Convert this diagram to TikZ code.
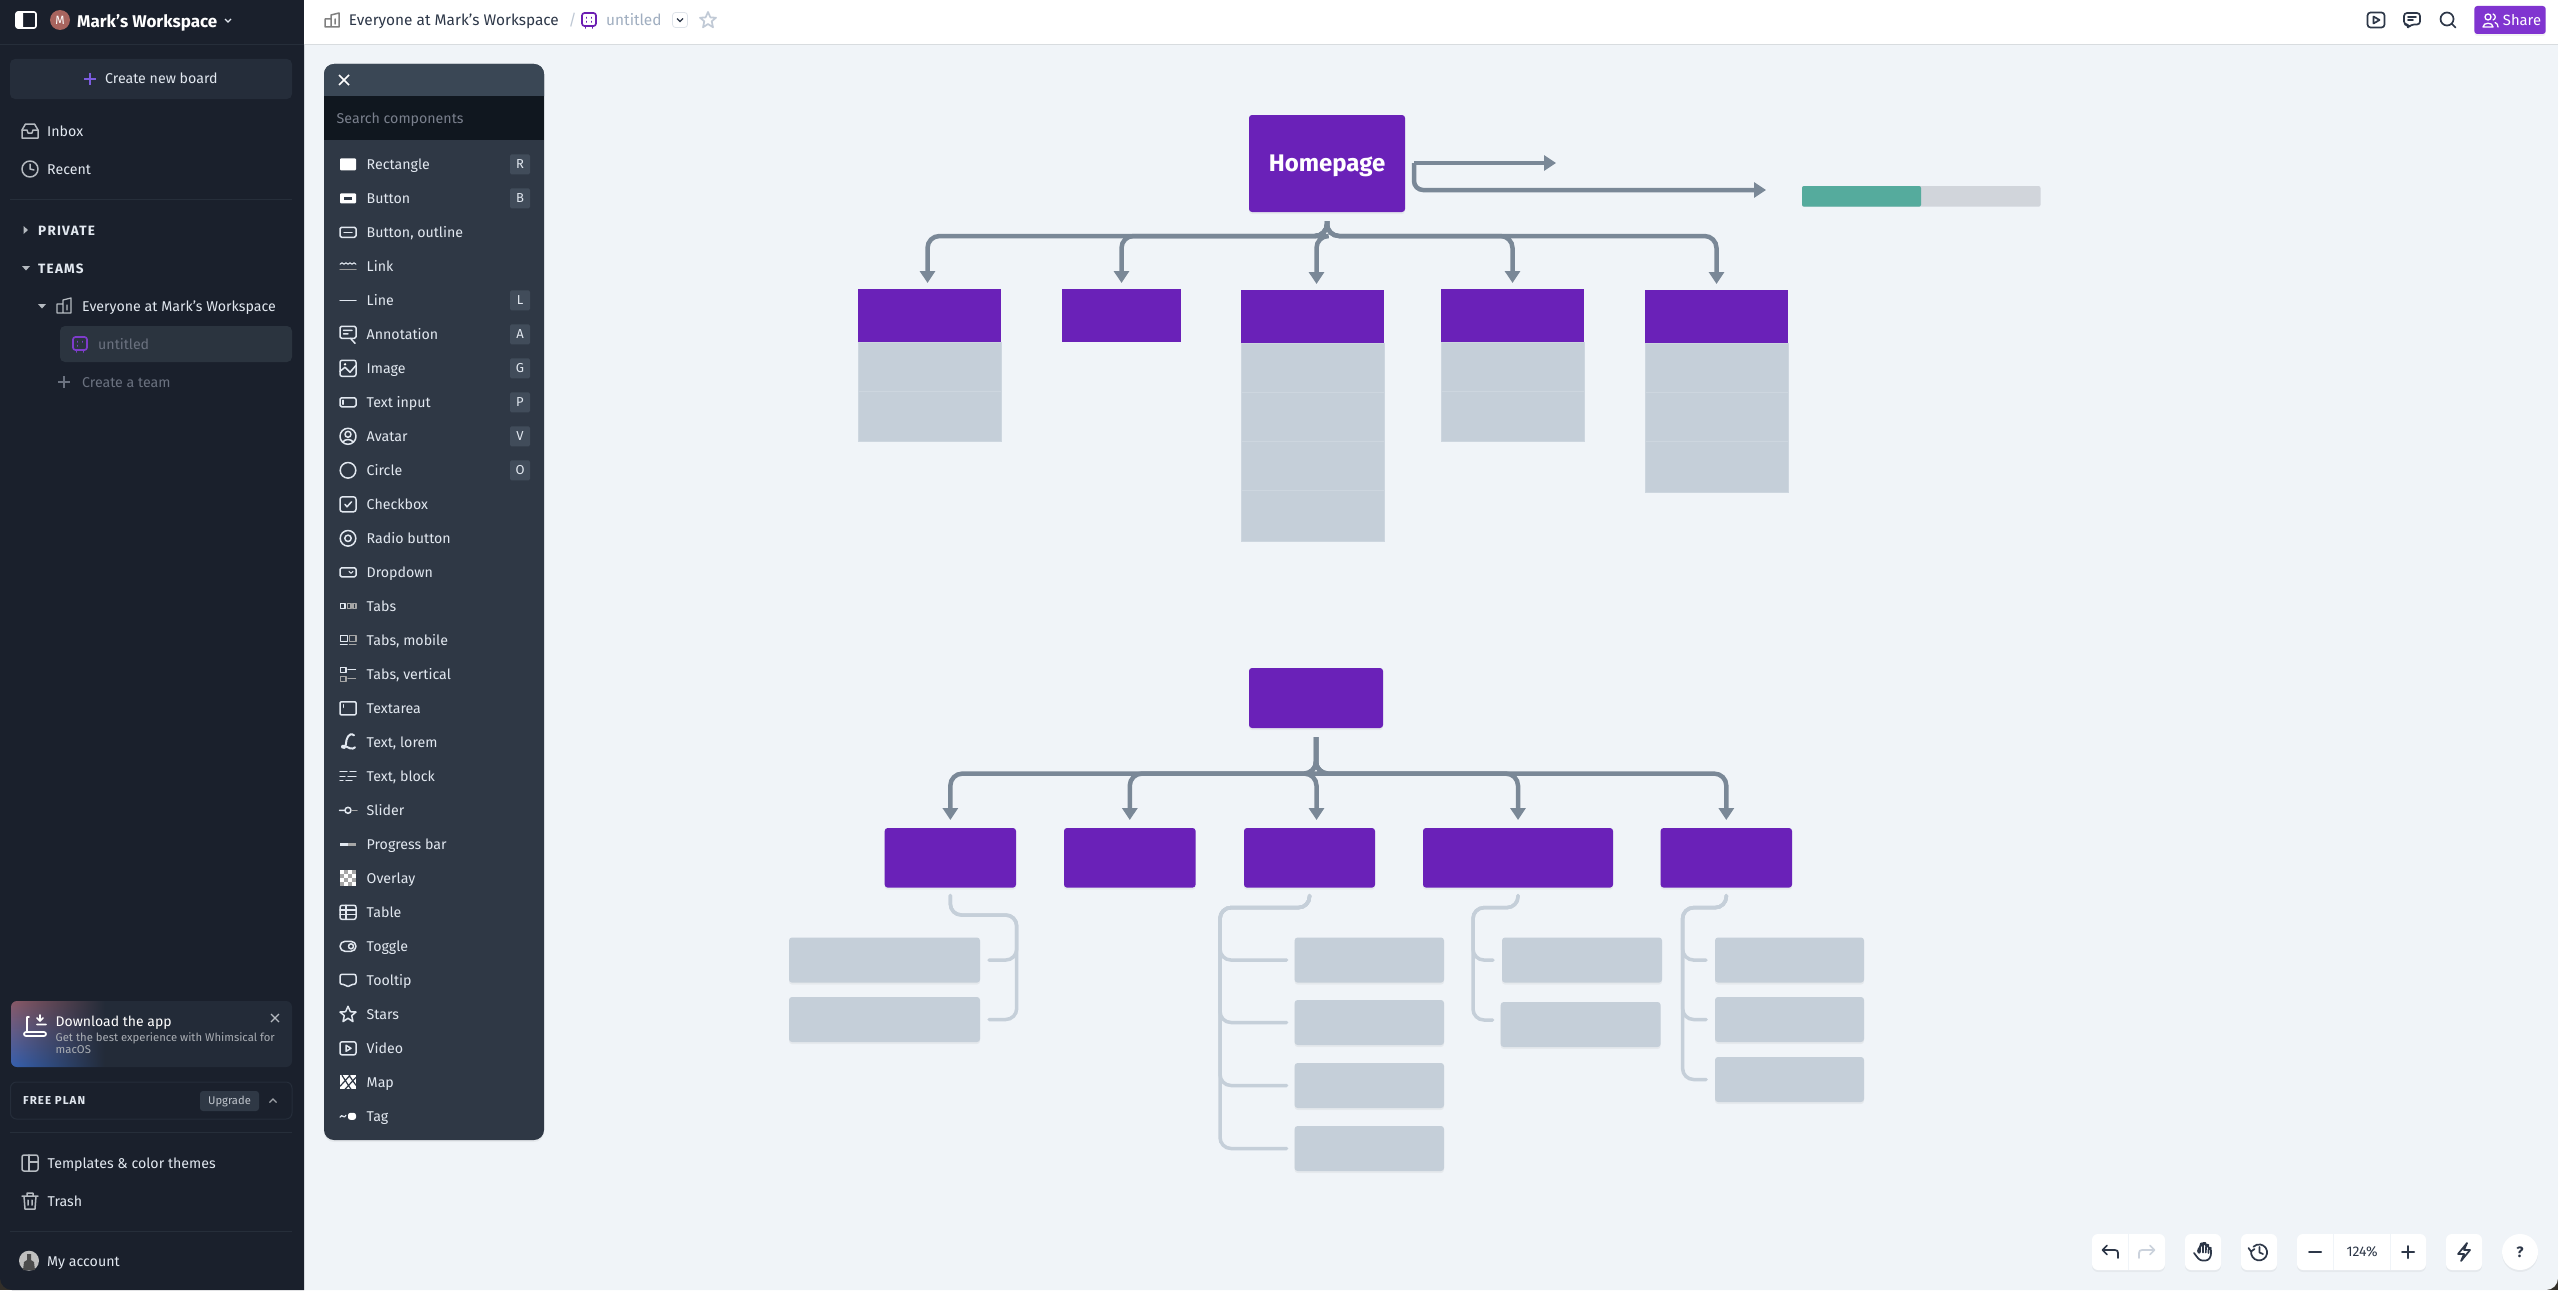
\documentclass[tikz,border=0pt]{standalone}
\usepackage{fontspec}
\setmainfont{Fira Sans}
\newfontfamily\capsfont[LetterSpace=9]{Fira Sans}
\usetikzlibrary{arrows.meta,shadows,fadings}
\definecolor{sidebar}{HTML}{1A202C}
\definecolor{sidebtn}{HTML}{252D3A}
\definecolor{sideline}{HTML}{262E3A}
\definecolor{canvasbg}{HTML}{F0F4F8}
\definecolor{panelbg}{HTML}{2F3845}
\definecolor{panelhead}{HTML}{3A4755}
\definecolor{panelsearch}{HTML}{10171F}
\definecolor{badgebg}{HTML}{414C5A}
\definecolor{plum}{HTML}{6A21B8}
\definecolor{sharebtn}{HTML}{8034D0}
\definecolor{boardicon}{HTML}{7E3CCB}
\definecolor{pluslilac}{HTML}{7C5CE0}
\definecolor{avatarrose}{HTML}{A8645E}
\definecolor{cellgray}{HTML}{C5CFD9}
\definecolor{cellline}{HTML}{CDD6DF}
\definecolor{flowgray}{HTML}{7A8897}
\definecolor{teal}{HTML}{55AB9D}
\definecolor{barrest}{HTML}{D1D5DB}
\definecolor{inkdark}{HTML}{2D3748}
\definecolor{inkmute}{HTML}{A0AEC0}
\definecolor{sidetext}{HTML}{E2E8F0}
\definecolor{sidemute}{HTML}{6B7280}
\definecolor{cardrose}{HTML}{8A5A68}
\definecolor{cardmid}{HTML}{4A5A78}
\definecolor{cardblue}{HTML}{3560B0}
\tikzset{
  blockbase/.style={inner sep=0pt, outer sep=0pt},
  softshadow/.style={drop shadow={shadow xshift=0pt, shadow yshift=-2pt, opacity=.045, fill=black}},
  plumblock/.style={blockbase, fill=plum},
  plumround/.style={blockbase, fill=plum, rounded corners=3pt, softshadow},
  cellblock/.style={blockbase, fill=cellgray, draw=cellline, line width=1pt},
  leafblock/.style={blockbase, fill=cellgray, rounded corners=3pt, softshadow},
  toolblock/.style={blockbase, fill=white, rounded corners=6pt, softshadow},
  flow/.style={draw=flowgray, line width=4.5pt, rounded corners=12pt, -{Triangle[length=12pt,width=15pt]}},
  branch/.style={draw=cellgray, line width=3.5pt, rounded corners=11pt, line cap=round},
  lab/.style={anchor=base west, inner sep=0pt, yshift=-5pt, font=\fontsize{14.2}{18}\selectfont},
  crumb/.style={lab, font=\fontsize{15.4}{18}\selectfont},
  sidelab/.style={lab, text=sidetext},
  caplab/.style={lab, text=sidetext, font=\capsfont\bfseries\fontsize{13.5}{16}\selectfont},
  mutelab/.style={lab, text=sidemute},
  comp/.style={lab, text=sidetext},
  badge/.style={blockbase, fill=badgebg, rounded corners=1.5pt, minimum width=20pt, minimum height=20pt,
    text=sidetext, font=\fontsize{13}{14}\selectfont},
  icon/.style={draw=sidetext, line width=1.5pt, line cap=round, line join=round},
  topicon/.style={draw=inkdark, line width=1.7pt, line cap=round, line join=round},
}
\newcommand{\blockat}[7][]{
  % parameter 1 (optional): text of the block
  % parameter 2: style
  % parameter 3: name
  % parameters 4 to 7: left, top, right, bottom
  \node[#2, minimum width={(#6-#4)*1pt}, minimum height={(#7-#5)*1pt}] (#3) at ({(#4+#6)/2},{(#5+#7)/2}) {#1};
}
\newcommand{\rowicon}[2]{
  % parameter 1: row number in the component list
  % parameter 2: drawing, centred on the origin
  \begin{scope}[shift={(348,{164.3+34*(#1-1)})}, icon]
    #2
  \end{scope}
}
\newcommand{\starpath}{(0,-8) -- (2.4,-2.6) -- (8,-2.3) -- (3.7,1.3) -- (5,7.3) -- (0,4) -- (-5,7.3) -- (-3.7,1.3) -- (-8,-2.3) -- (-2.4,-2.6) -- cycle}
\begin{document}
\begin{tikzpicture}[x=1pt,y=-1pt]
  \useasboundingbox (0,0) rectangle (2558,1290);
  \fill[black!85!olive] (0,0) rectangle (2558,1290);
  \fill[canvasbg] (304,0) -- (2558,0) [rounded corners=12pt] -- (2558,1290) [sharp corners] -- (304,1290) -- cycle;
  \fill[sidebar] (304,0) -- (0,0) [rounded corners=12pt] -- (0,1290) [sharp corners] -- (304,1290) -- cycle;
  \fill[white] (304,0) rectangle (2558,44);
  \draw[canvasbg!90!black, line width=.5pt] (304,44) -- (2558,44);

  % sidebar
  \draw[white, line width=1.6pt, rounded corners=2pt] (16,12) rectangle (36,28);
  \fill[white, rounded corners=1pt] (16,12) rectangle (23,28);
  \fill[avatarrose] (60,20) circle (10);
  \node[inner sep=0pt, text=white, font=\fontsize{12}{14}\selectfont] (wsinitial) at (60,20) {M};
  \node[lab, text=white, font=\bfseries\fontsize{17}{20}\selectfont, yshift=2pt] (wsname) at (77,25) {Mark's Workspace};
  \draw[sidetext, line width=1.3pt] (225,19) -- (228,22) -- (231,19);
  \draw[sideline] (0,44) -- (304,44);
  \blockat{blockbase, fill=sidebtn, rounded corners=5pt}{newboard}{10}{59}{292}{99}
  \draw[pluslilac, line width=1.6pt] (84,79) -- (96,79) (90,73) -- (90,85);
  \node[sidelab] (newboardlab) at (105,79) {Create new board};
  \begin{scope}[shift={(30,131)}, icon, draw=sidetext!80!black]
    \draw (-8,-1) -- (-4.5,-7) -- (4.5,-7) -- (8,-1) -- (8,7) -- (-8,7) -- cycle;
    \draw (-8,-1) -- (-3,-1) -- (-2,2) -- (2,2) -- (3,-1) -- (8,-1);
  \end{scope}
  \node[sidelab] (inboxlab) at (47,131) {Inbox};
  \draw[icon, draw=sidetext!80!black] (30,169) circle (8) (30,164) -- (30,169) -- (34,170);
  \node[sidelab] (recentlab) at (47,169) {Recent};
  \draw[sideline, line width=1pt] (10,199) -- (292,199);
  \fill[sidetext!80!black] (23.5,226) -- (28,230) -- (23.5,234) -- cycle;
  \node[caplab] (privatelab) at (38,230) {PRIVATE};
  \fill[sidetext!80!black] (22,266) -- (30,266) -- (26,270.5) -- cycle;
  \node[caplab] (teamslab) at (38,268) {TEAMS};
  \fill[sidetext!80!black] (38,304) -- (46,304) -- (42,308.5) -- cycle;
  \begin{scope}[shift={(64,306)}, icon, draw=sidetext!80!black, line width=1.3pt]
    \draw (-7,7) -- (-7,-2) -- (-1,-2) (-1,7) -- (-1,-6) -- (7,-8) -- (7,7) -- cycle (-7,7) -- (-1,7) (3,-1) -- (3,4);
  \end{scope}
  \node[sidelab] (teamlab) at (82,306) {Everyone at Mark's Workspace};
  \blockat{blockbase, fill=panelbg!92!black, rounded corners=5pt}{boardrow}{60}{326}{292}{362}
  \begin{scope}[shift={(80,344)}, icon, draw=boardicon, line width=1.7pt]
    \draw[rounded corners=2.5pt] (-7,-7) rectangle (7,6);
    \draw (-3.5,6) -- (-3.5,8) (3.5,6) -- (3.5,8) (-2.5,-2.5) -- (-2.5,-2) (2.5,-2.5) -- (2.5,-2) (-2.5,1.5) -- (-2.5,2);
  \end{scope}
  \node[mutelab] (boardlab) at (98,344) {untitled};
  \draw[sidemute, line width=1.7pt] (58,382) -- (70,382) (64,376) -- (64,388);
  \node[mutelab] (newteamlab) at (82,382) {Create a team};

  % download card
  \blockat{blockbase, fill=sidebtn!85!sidebar, rounded corners=6pt}{appcard}{11}{1001}{292}{1067}
  \begin{scope}
    \clip[rounded corners=6pt] (11,1001) rectangle (110,1067);
    \shade[top color=cardrose, middle color=cardmid, bottom color=cardblue, path fading=east] (11,1001) rectangle (105,1067);
  \end{scope}
  \begin{scope}[shift={(35,1026)}, icon, draw=white, line width=1.7pt]
    \draw (-6,-9) -- (-8,-9) -- (-8,6) (5,-11) -- (5,-5) (2,-8) -- (5,-5) -- (8,-8) (2,-1.5) -- (11,-1.5);
    \draw[rounded corners=2pt] (-11,6) rectangle (11,10);
  \end{scope}
  \node[lab, text=white, font=\fontsize{14}{18}\selectfont] (applab) at (55.5,1021.5) {Download the app};
  \node[lab, text=sidetext!75!black, font=\fontsize{11.3}{14}\selectfont, yshift=1pt] (apptexta) at (55.5,1037) {Get the best experience with Whimsical for};
  \node[lab, text=sidetext!75!black, font=\fontsize{11.3}{14}\selectfont, yshift=1pt] (apptextb) at (55.5,1049) {macOS};
  \draw[sidetext!80!black, line width=1.3pt] (271,1014) -- (279,1022) (279,1014) -- (271,1022);
  \blockat{blockbase, draw=sidebtn, line width=1pt, rounded corners=6pt}{planbox}{10.5}{1082}{292}{1119}
  \node[caplab, font=\capsfont\bfseries\fontsize{11.5}{14}\selectfont, yshift=1pt] (planlab) at (23,1100.5) {FREE PLAN};
  \blockat[\fontsize{11.2}{14}\selectfont Upgrade]{blockbase, fill=panelbg, text=sidetext!85!black, rounded corners=3pt}{upgradebtn}{200}{1091}{259}{1111}
  \draw[sidetext!70!black, line width=1.2pt] (269.5,1102.5) -- (273,1099) -- (276.5,1102.5);
  \draw[sideline, line width=1pt] (10,1132) -- (292,1132) (10,1231) -- (292,1231);
  \begin{scope}[shift={(30,1163)}, icon, draw=sidetext!80!black]
    \draw[rounded corners=2pt] (-8,-8) rectangle (8,8);
    \draw (-1,-8) -- (-1,8) (-1,-1) -- (8,-1);
  \end{scope}
  \node[sidelab] (themeslab) at (47.5,1163) {Templates \& color themes};
  \begin{scope}[shift={(30,1201)}, icon, draw=sidetext!80!black]
    \draw (-8,-5) -- (8,-5) (-3,-5) -- (-3,-8) -- (3,-8) -- (3,-5) (-6,-5) -- (-5,8) -- (5,8) -- (6,-5) (-2,-1) -- (-2,4) (2,-1) -- (2,4);
  \end{scope}
  \node[sidelab] (trashlab) at (47.5,1201) {Trash};
  \fill[gray!50] (29,1260.7) circle (10);
  \fill[black!70] (23,1270) -- (24,1262) -- (27,1260) -- (27,1254) -- (31,1254) -- (31,1260) -- (34,1262) -- (35,1270) -- cycle;
  \node[sidelab] (accountlab) at (47,1261) {My account};

  % component panel
  \blockat{blockbase, fill=panelbg, rounded corners=10pt, softshadow}{panel}{324}{64}{544}{1140}
  \fill[panelhead] (324,96) [rounded corners=10pt] -- (324,64) -- (544,64) [sharp corners] -- (544,96) -- cycle;
  \fill[panelsearch] (324,96) rectangle (544,140);
  \draw[white, line width=1.5pt] (339,75) -- (349,85) (349,75) -- (339,85);
  \node[lab, text=sidemute!90!white] (searchlab) at (336.5,118) {Search components};
  \foreach \rowlabel [count=\i] in {Rectangle,Button,{Button, outline},Link,Line,Annotation,Image,Text input,Avatar,Circle,Checkbox,Radio button,Dropdown,Tabs,{Tabs, mobile},{Tabs, vertical},Textarea,{Text, lorem},{Text, block},Slider,Progress bar,Overlay,Table,Toggle,Tooltip,Stars,Video,Map,Tag}
    \node[comp] (comp\i) at (366.5,{164.3+34*(\i-1)}) {\rowlabel};
  \foreach \i/\k in {1/R,2/B,5/L,6/A,7/G,8/P,9/V,10/O}
    \node[badge] (key\k) at (520,{164.3+34*(\i-1)}) {\k};

  \rowicon{1}{\fill[white, rounded corners=1pt] (-8,-6) rectangle (8,6);}
  \rowicon{2}{\fill[white, rounded corners=1pt] (-8,-5) rectangle (8,5); \fill[panelbg] (-4,-1.2) rectangle (4,1.2);}
  \rowicon{3}{\draw[rounded corners=1.5pt] (-8,-5) rectangle (8,5); \draw (-4,0) -- (4,0);}
  \rowicon{4}{\draw[line width=1.1pt] (-8,-2) -- (-6,-3.5) -- (-4,-2) -- (-2,-3.5) -- (0,-2) -- (2,-3.5) -- (4,-2) -- (6,-3.5) -- (8,-2); \draw[gray!80!white] (-8,3) -- (8,3);}
  \rowicon{5}{\draw (-8,0) -- (8,0);}
  \rowicon{6}{\draw[rounded corners=1.5pt] (-8,-8) rectangle (8,4); \draw (-4.5,-4) -- (4,-4) (-4.5,-.5) -- (0,-.5) (2.5,4) -- (7,9);}
  \rowicon{7}{\draw[rounded corners=2pt] (-8,-8) rectangle (8,8); \draw (-8,3) -- (-3,-1) -- (2,4) -- (8,-3); \fill[white] (-3,-4) circle (1.3);}
  \rowicon{8}{\draw[rounded corners=1.5pt] (-8,-4.5) rectangle (8,4.5); \draw (-5,-2) -- (-5,2);}
  \rowicon{9}{\draw (0,0) circle (8) (0,-2) circle (3) (-5,5.5) .. controls (-3,2.5) and (3,2.5) .. (5,5.5);}
  \rowicon{10}{\draw (0,0) circle (7.8);}
  \rowicon{11}{\draw[rounded corners=2.5pt] (-8,-7.5) rectangle (8,7.5); \draw (-3,0) -- (-1,2.5) -- (3.5,-2.5);}
  \rowicon{12}{\draw (0,0) circle (7.8) (0,0) circle (3.2);}
  \rowicon{13}{\draw[rounded corners=1.5pt] (-8,-4.5) rectangle (8,4.5); \draw[line width=1.1pt] (1,-1) -- (3,1) -- (5,-1);}
  \rowicon{14}{\draw[line width=1.2pt] (-7.5,-2.5) rectangle (-3,2.5); \draw[line width=1.2pt, gray!70!white] (-.8,-2.5) rectangle (3,2.5) (5,-2.5) rectangle (8,2.5);}
  \rowicon{15}{\draw[line width=1.2pt] (-7.5,-5) rectangle (-.8,1) (-7.5,4.5) -- (-.8,4.5); \draw[line width=1.2pt, gray!70!white] (1.5,-5) rectangle (8,1) (1.5,4.5) -- (8,4.5);}
  \rowicon{16}{\draw[line width=1.2pt] (-7.5,-7) rectangle (-2,-2) (0,-4.5) -- (7.5,-4.5); \draw[line width=1.2pt, gray!70!white] (-7.5,2) rectangle (-2,7) (0,4.5) -- (7.5,4.5);}
  \rowicon{17}{\draw[rounded corners=1pt] (-8,-6.5) rectangle (8,6.5); \draw (-4.5,-3.5) -- (-4.5,-1);}
  \rowicon{18}{\draw[line width=2pt] (6,-7) .. controls (1,-11) and (-2,-3) .. (-2,1) .. controls (-2,6) and (-5,7) .. (-6,5) .. controls (-7,2) and (-2,4) .. (2,6) .. controls (4,7) and (6,6) .. (7,5);}
  \rowicon{19}{\draw[line width=1.1pt] (-8,-4.5) -- (-1,-4.5) (2,-4.5) -- (8,-4.5) (-8,0) -- (-3,0) (0,0) -- (8,0) (-8,4.5) -- (-5,4.5) (-2,4.5) -- (4,4.5);}
  \rowicon{20}{\draw (-8.5,0) -- (-4,0) (0,0) circle (3); \draw[gray!70!white] (4,0) -- (9,0);}
  \rowicon{21}{\draw[line width=2.4pt, line cap=butt] (-8,0) -- (0,0); \draw[line width=2.4pt, line cap=butt, gray!70!white] (0,0) -- (8,0);}
  \rowicon{22}{\foreach \cx in {0,1,2,3}
      \foreach \cy in {0,1,2,3}{
        \pgfmathparse{int(mod(\cx+\cy,2))}
        \ifnum\pgfmathresult=0 \fill[white] ({-8+4*\cx},{-8+4*\cy}) rectangle ++(4,4);
        \else \fill[gray!70!white] ({-8+4*\cx},{-8+4*\cy}) rectangle ++(4,4); \fi
      }}
  \rowicon{23}{\draw[rounded corners=2pt] (-8,-7) rectangle (8,7); \draw (-8,-2.3) -- (8,-2.3) (-8,2.3) -- (8,2.3) (-2,-7) -- (-2,7);}
  \rowicon{24}{\draw[rounded corners=5pt] (-8,-5) rectangle (8,5); \draw (3,0) circle (2.5);}
  \rowicon{25}{\draw[rounded corners=2pt] (-8,-6) -- (8,-6) -- (8,4) -- (3,4) -- (0,7) -- (-3,4) -- (-8,4) -- cycle;}
  \rowicon{26}{\draw \starpath;}
  \rowicon{27}{\draw[rounded corners=2pt] (-8,-6.5) rectangle (8,6.5); \draw (-2,-3) -- (3,0) -- (-2,3) -- cycle;}
  \rowicon{28}{\fill[white] (-8,-7) rectangle (8,7); \draw[panelbg, line width=1.2pt] (-8,4) -- (2,-7) (-3,7) -- (8,-5) (-6,-7) -- (3,7) (1,-7) -- (8,3);}
  \rowicon{29}{\draw[line width=1.2pt] (-8,1) .. controls (-7,-1) and (-6,-1) .. (-5,0) .. controls (-4,1) and (-3,1) .. (-2,-1); \fill[white, rounded corners=2.5pt] (0,-3.5) rectangle (8,3.5);}

  % top bar
  \begin{scope}[shift={(332,20)}, topicon, draw=gray, line width=1.5pt]
    \draw (-7,7) -- (-7,-1) -- (-1,-1) (-1,7) -- (-1,-5) -- (7,-7) -- (7,7) -- cycle (-7,7) -- (-1,7) (3,-1) -- (3,4);
  \end{scope}
  \node[crumb, text=inkdark] (crumbteam) at (348.7,21) {Everyone at Mark's Workspace};
  \node[crumb, text=inkmute!70!white] (crumbslash) at (568.5,21) {/};
  \begin{scope}[shift={(589,20)}, topicon, draw=plum!90!violet]
    \draw[rounded corners=2.5pt] (-7,-7) rectangle (7,6);
    \draw (-3.5,6) -- (-3.5,8) (3.5,6) -- (3.5,8) (-2.5,-2.5) -- (-2.5,-2) (2.5,-2.5) -- (2.5,-2) (-2.5,1.5) -- (-2.5,2) (2.5,1.5) -- (2.5,2);
  \end{scope}
  \node[crumb, text=inkmute] (crumbboard) at (606,21) {untitled};
  \blockat{blockbase, draw=inkmute!35!white, line width=.8pt, rounded corners=3pt}{crumbmenu}{672.5}{12.5}{687.5}{27.5}
  \draw[inkdark, line width=1.3pt] (677,18.5) -- (680,21.5) -- (683,18.5);
  \begin{scope}[shift={(708,20)}, topicon, draw=inkmute!65!white]
    \draw \starpath;
  \end{scope}
  \begin{scope}[shift={(2376,20)}, topicon]
    \draw[rounded corners=3pt] (-8.5,-7.5) rectangle (8.5,7.5);
    \draw (-2.5,-3.5) -- (3.5,0) -- (-2.5,3.5) -- cycle;
  \end{scope}
  \begin{scope}[shift={(2412,20)}, topicon]
    \draw[rounded corners=3pt] (-8,-7) -- (8,-7) -- (8,4.5) -- (-1,4.5) -- (-4,8) -- (-4,4.5) -- (-8,4.5) -- cycle;
    \draw (-4,-3) -- (4,-3) (-4,0) -- (1,0);
  \end{scope}
  \begin{scope}[shift={(2448,20)}, topicon]
    \draw (-1,-1) circle (6.5) (3.8,3.8) -- (7.5,7.5);
  \end{scope}
  \blockat{blockbase, fill=sharebtn, rounded corners=3pt, softshadow}{sharebtn}{2474.3}{6}{2545.7}{34}
  \begin{scope}[shift={(2490,20)}, icon, draw=white, line width=1.3pt]
    \draw (-2,-3) circle (3) (-7,7) .. controls (-7,2) and (3,2) .. (3,7) -- cycle;
    \draw (3,-6) .. controls (6,-5) and (6,-1) .. (3,0) (5,2.5) .. controls (7,3) and (8,5) .. (8,7);
  \end{scope}
  \node[lab, text=white, font=\fontsize{14.8}{18}\selectfont] (sharelab) at (2502.7,20.5) {Share};

  % first tree
  \blockat[{\raisebox{-8pt}[0pt][0pt]{\bfseries\fontsize{24}{28}\selectfont Homepage}}]{blockbase, fill=plum, text=white, rounded corners=3pt, softshadow}{home}{1249}{115}{1405}{212}
  \coordinate (homebus) at (1327,236);
  \coordinate (homeport) at (1414,163);
  \coordinate (sidetipa) at (1556,163);
  \coordinate (sidetipb) at (1766,190);
  \blockat{blockbase, fill=barrest, rounded corners=2pt}{progressrest}{1802}{186}{2040.5}{206.7}
  \fill[teal, rounded corners=2pt] (1802,186) rectangle (1921,206.7);

  \blockat{plumblock}{col1}{858}{289}{1001}{342}
  \blockat{plumblock}{col2}{1062}{289}{1181}{342}
  \blockat{plumblock}{col3}{1241}{290}{1384}{343}
  \blockat{plumblock}{col4}{1441}{289}{1584}{342}
  \blockat{plumblock}{col5}{1645}{290}{1788}{343}
  \foreach \ya/\yb [count=\c] in {342/391,391/441}
    {\blockat{cellblock}{col1cell\c}{858}{\ya}{1001}{\yb}}
  \foreach \ya/\yb [count=\c] in {343/392,392/441,441/490,490/541.5}
    {\blockat{cellblock}{col3cell\c}{1241}{\ya}{1384}{\yb}}
  \foreach \ya/\yb [count=\c] in {342/391,391/441}
    {\blockat{cellblock}{col4cell\c}{1441}{\ya}{1584}{\yb}}
  \foreach \ya/\yb [count=\c] in {343/392,392/441,441/492}
    {\blockat{cellblock}{col5cell\c}{1645}{\ya}{1788}{\yb}}

  \foreach \kid/\dx in {col1/-2,col2/0,col3/4,col4/0,col5/0}
    \draw[flow] ([yshift=-9pt]home.south) -- (homebus) -| ([xshift=\dx pt,yshift=6pt]\kid.north);
  \draw[flow, rounded corners=9pt] (homeport) -- (sidetipa);
  \draw[flow, rounded corners=9pt] (homeport) |- (sidetipb);

  % second tree
  \blockat{plumround}{root}{1249}{668}{1383}{728}
  \coordinate (rootbus) at (1316,773.6);
  \blockat{plumround}{sec1}{884.7}{828}{1016}{887.6}
  \blockat{plumround}{sec2}{1064}{828}{1195.6}{887.6}
  \blockat{plumround}{sec3}{1244}{828}{1375}{887.6}
  \blockat{plumround}{sec4}{1423}{828}{1613}{887.6}
  \blockat{plumround}{sec5}{1660.6}{828}{1792}{887.6}
  \foreach \kid/\dx in {sec1/0,sec2/0,sec3/7,sec4/0,sec5/0}
    \draw[flow] ([yshift=-9pt]root.south) -- (rootbus) -| ([xshift=\dx pt,yshift=8pt]\kid.north);

  \blockat{leafblock}{leafa1}{789}{937.5}{980}{982.6}
  \blockat{leafblock}{leafa2}{789}{997}{980}{1042}
  \blockat{leafblock}{leafc1}{1294.6}{937.5}{1444}{982.6}
  \blockat{leafblock}{leafc2}{1294.6}{1000}{1444}{1045}
  \blockat{leafblock}{leafc3}{1294.6}{1063}{1444}{1108}
  \blockat{leafblock}{leafc4}{1294.6}{1126}{1444}{1171}
  \blockat{leafblock}{leafd1}{1502}{937.5}{1662}{982.6}
  \blockat{leafblock}{leafd2}{1500.7}{1002}{1660.6}{1047}
  \blockat{leafblock}{leafe1}{1715}{937.5}{1864}{982.6}
  \blockat{leafblock}{leafe2}{1715}{997}{1864}{1042}
  \blockat{leafblock}{leafe3}{1715}{1057}{1864}{1102}

  \coordinate (elbowa) at (1016.7,915);
  \coordinate (elbowc) at (1220,907.6);
  \coordinate (elbowd) at (1473,907.6);
  \coordinate (elbowe) at (1682.6,907.6);
  \foreach \leaf in {leafa1,leafa2}
    \draw[branch] ([yshift=-8pt]sec1.south) |- (elbowa) |- ([xshift=9pt]\leaf.east);
  \foreach \leaf in {leafc1,leafc2,leafc3,leafc4}
    \draw[branch] ([yshift=-8pt]sec3.south) |- (elbowc) |- ([xshift=-8pt]\leaf.west);
  \draw[branch] ([yshift=-8pt]sec4.south) |- (elbowd) |- ([xshift=-9pt]leafd1.west);
  \draw[branch] ([yshift=-8pt]sec4.south) |- (elbowd) |- ([xshift=-8pt,yshift=4.5pt]leafd2.west);
  \foreach \leaf in {leafe1,leafe2,leafe3}
    \draw[branch] ([yshift=-8pt]sec5.south) |- (elbowe) |- ([xshift=-9pt]\leaf.west);

  % bottom toolbar
  \blockat{toolblock}{undogroup}{2092}{1234}{2165}{1270}
  \blockat{toolblock}{handbtn}{2185}{1234}{2221}{1270}
  \blockat{toolblock}{historybtn}{2241}{1234}{2277}{1270}
  \blockat{toolblock}{zoomgroup}{2297}{1234}{2426}{1270}
  \blockat{toolblock}{boltbtn}{2446}{1234}{2482}{1270}
  \node[blockbase, fill=white, circle, minimum size=36pt, softshadow, text=inkdark, font=\bfseries\fontsize{15}{18}\selectfont] (helpbtn) at (2520,1252) {?};
  \draw[canvasbg, line width=.8pt] (2128,1234) -- (2128,1270) (2333,1234) -- (2333,1270) (2390,1234) -- (2390,1270);
  \begin{scope}[shift={(2110,1252)}, topicon]
    \draw (8,6) -- (8,1) .. controls (8,-1) and (7,-2) .. (5,-2) -- (-7,-2) (-3,-6.5) -- (-7.5,-2) -- (-3,2.5);
  \end{scope}
  \begin{scope}[shift={(2147,1252)}, topicon, draw=inkmute!55!white]
    \draw (-8,6) -- (-8,1) .. controls (-8,-1) and (-7,-2) .. (-5,-2) -- (7,-2) (3,-6.5) -- (7.5,-2) -- (3,2.5);
  \end{scope}
  \begin{scope}[shift={(2203,1252)}, topicon]
    \draw[rounded corners=2.5pt] (-9,1) -- (-6,5) -- (-3,8.5) -- (5,8.5) -- (8,4) -- (8,-4) -- (5.5,-4.5) -- (5.5,1) (5.5,-4.5) -- (5.5,-7) -- (3,-7.5) -- (2.8,0.5) (2.8,-7.5) -- (2.8,-9) -- (0,-9) -- (0,0.5) (0,-9) -- (-3,-8) -- (-3,2) -- (-6,-1) -- cycle;
  \end{scope}
  \begin{scope}[shift={(2259,1252)}, topicon]
    \draw (-7.8,-1) arc[start angle=190, end angle=-135, radius=8] (-10.5,-4) -- (-8,-.5) -- (-4.5,-3) (.5,-5) -- (.5,.5) -- (4,2);
  \end{scope}
  \draw[topicon, line width=2pt] (2309,1252) -- (2321,1252) (2402,1252) -- (2414,1252) (2408,1246) -- (2408,1258);
  \node[inner sep=0pt, text=inkdark, font=\fontsize{14}{16}\selectfont] (zoomlab) at (2362,1252) {124\%};
  \begin{scope}[shift={(2464,1252)}, topicon]
    \draw (3,-9) -- (-6,2) -- (0,2) -- (-3,9) -- (6,-2) -- (0,-2) -- cycle;
  \end{scope}
\end{tikzpicture}
\end{document}
